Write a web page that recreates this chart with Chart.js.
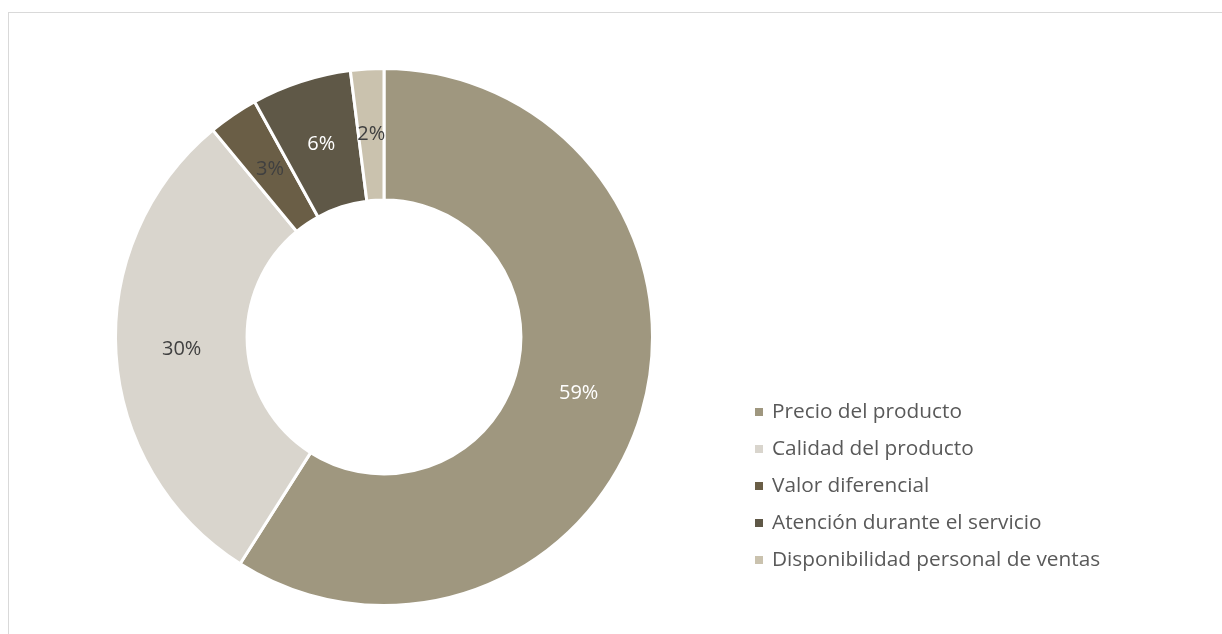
<!DOCTYPE html>
<html>
<head>
<meta charset="utf-8">
<script src="https://cdn.jsdelivr.net/npm/chart.js@4/dist/chart.umd.min.js"></script>
<style>
  html, body { margin: 0; padding: 0; background: #fff; }
  #wrap { position: relative; width: 1222px; height: 634px; overflow: hidden; }
  #frame { position: absolute; left: 8px; top: 12px; width: 1240px; height: 660px; border: 1px solid #d9d9d9; box-sizing: border-box; }
  #c { position: absolute; left: 0; top: 0; }
</style>
</head>
<body>
<div id="wrap">
  <div id="frame"></div>
  <canvas id="c" width="1222" height="634"></canvas>
</div>
<script>
// Factores de compra (porcentaje de respuestas)
const categories = [
  'Precio del producto',
  'Calidad del producto',
  'Valor diferencial',
  'Atención durante el servicio',
  'Disponibilidad personal de ventas'
];
const percentages = [59, 30, 3, 6, 2];
const sliceColors = ['#9f977f', '#d9d5cd', '#6a5e46', '#5f5847', '#cac2ae'];
const labelColors = ['#ffffff', '#404040', '#404040', '#ffffff', '#404040'];

const FONT = '"Open Sans", "Liberation Sans", sans-serif';

// Percentage labels at the middle of each ring segment
const sliceLabels = {
  id: 'sliceLabels',
  afterDatasetsDraw(chart) {
    const ctx = chart.ctx;
    const meta = chart.getDatasetMeta(0);
    ctx.save();
    ctx.font = '20px ' + FONT;
    ctx.textAlign = 'center';
    ctx.textBaseline = 'middle';
    meta.data.forEach((arc, i) => {
      const p = arc.getCenterPoint();
      ctx.fillStyle = labelColors[i];
      ctx.fillText(percentages[i] + '%', p.x, p.y);
    });
    ctx.restore();
  }
};

// Legend column on the right
const sideLegend = {
  id: 'sideLegend',
  afterDraw(chart) {
    const ctx = chart.ctx;
    const x0 = 755, y0 = 412, step = 37;
    ctx.save();
    ctx.font = '20.8px ' + FONT;
    ctx.textBaseline = 'middle';
    ctx.textAlign = 'left';
    chart.data.labels.forEach((lab, i) => {
      const y = y0 + i * step;
      ctx.fillStyle = sliceColors[i];
      ctx.fillRect(x0, y - 4, 8, 8);
      ctx.fillStyle = '#595959';
      ctx.fillText(lab, x0 + 17, y);
    });
    ctx.restore();
  }
};

new Chart(document.getElementById('c'), {
  type: 'doughnut',
  data: {
    labels: categories,
    datasets: [{
      data: percentages,
      backgroundColor: sliceColors,
      borderColor: '#ffffff',
      borderWidth: 3,
      hoverOffset: 0
    }]
  },
  options: {
    responsive: false,
    animation: false,
    cutout: '51%',
    layout: { padding: { left: 114, right: 568, top: 66, bottom: 26 } },
    plugins: {
      legend: { display: false },
      tooltip: { enabled: false }
    }
  },
  plugins: [sliceLabels, sideLegend]
});
</script>
</body>
</html>
